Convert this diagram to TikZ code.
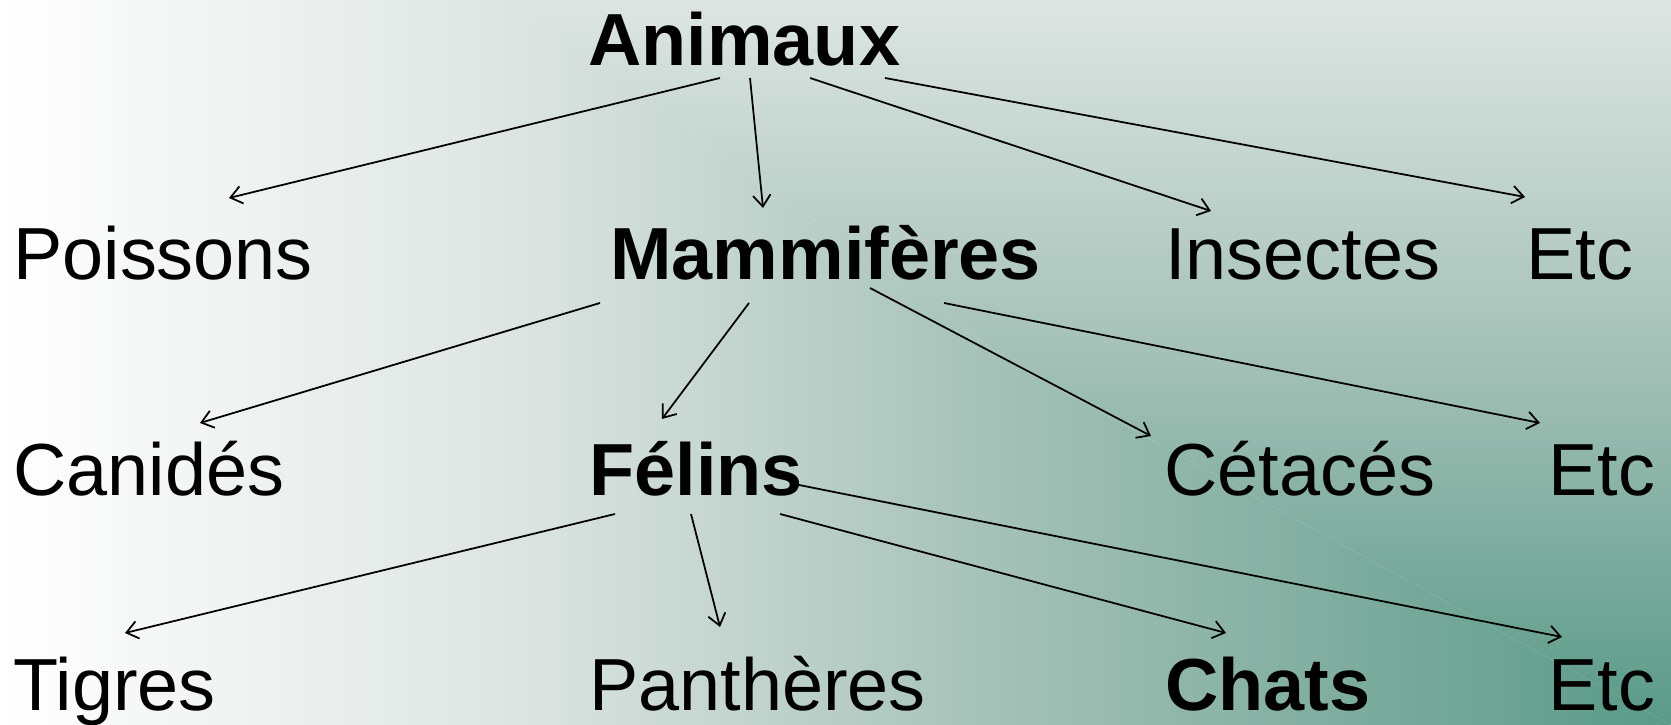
\documentclass[tikz,border=0pt]{standalone}
\usepackage{fontspec}
\setmainfont{Liberation Sans}
\usepackage{tikz}
\usetikzlibrary{arrows.meta}

\definecolor{palegreen}{HTML}{DDE5E2}
\definecolor{midgreen}{HTML}{A3C0B6}
\definecolor{deepgreen}{HTML}{5A9A88}

\begin{document}
\begin{tikzpicture}[lbl/.style={anchor=base west,inner sep=0pt,font=\fontsize{42}{50}\selectfont},
  bl/.style={lbl,font=\fontsize{42}{50}\selectfont\bfseries},
  conn/.style={->,line width=1pt},
  >={Straight Barb[length=6.5pt,width=10pt]}]

% background: left part shaded across, right part shaded down
\begin{scope}
\clip (0,0) -- (0,14.5) -- (10.2,14.5) -- (20.2,7.25) -- (33.42,0) -- cycle;
\shade[left color=white,right color=palegreen] (0,0) rectangle (10.22,14.5);
\shade[left color=palegreen,right color=midgreen] (10.2,0) rectangle (20.22,14.5);
\shade[left color=midgreen,right color=deepgreen] (20.2,0) rectangle (33.42,14.5);
\end{scope}
\begin{scope}
\clip (10.2,14.5) -- (33.42,14.5) -- (33.42,0) -- (20.2,7.25) -- cycle;
\shade[top color=palegreen,bottom color=midgreen] (10,7.23) rectangle (33.42,14.5);
\shade[top color=midgreen,bottom color=deepgreen] (10,0) rectangle (33.42,7.25);
\end{scope}
\useasboundingbox (0,0) rectangle (33.42,14.5);

\node[bl] (anim) at (11.76,13.18) {Animaux};

\node[lbl] (pois) at (0.26,8.9) {Poissons};
\node[bl] (mamm) at (12.2,8.9) {Mammifères};
\node[lbl] (inse) at (23.3,8.9) {Insectes};
\node[lbl] (etcA) at (30.52,8.9) {Etc};

\node[lbl] (cani) at (0.26,4.58) {Canidés};
\node[bl] (feli) at (11.78,4.58) {Félins};
\node[lbl] (ceta) at (23.28,4.58) {Cétacés};
\node[lbl] (etcB) at (30.96,4.58) {Etc};

\node[lbl] (tigr) at (0.26,0.28) {Tigres};
\node[lbl] (pant) at (11.78,0.28) {Panthères};
\node[bl] (chat) at (23.3,0.28) {Chats};
\node[lbl] (etcC) at (30.96,0.28) {Etc};

% Animaux
\draw[conn] ([shift={(2.64,-0.24)}]anim.base west) -- ([shift={(4.32,1.64)}]pois.base west);
\draw[conn] ([shift={(3.24,-0.24)}]anim.base west) -- ([shift={(3.06,1.44)}]mamm.base west);
\draw[conn] ([shift={(4.44,-0.24)}]anim.base west) -- ([shift={(0.92,1.38)}]inse.base west);
\draw[conn] ([shift={(5.94,-0.24)}]anim.base west) -- ([shift={(-0.02,1.66)}]etcA.base west);

% Mammiferes
\draw[conn] ([shift={(-0.2,-0.46)}]mamm.base west) -- ([shift={(3.74,1.46)}]cani.base west);
\draw[conn] ([shift={(2.78,-0.46)}]mamm.base west) -- ([shift={(1.46,1.54)}]feli.base west);
\draw[conn] ([shift={(5.2,-0.16)}]mamm.base west) -- ([shift={(-0.26,1.2)}]ceta.base west);
\draw[conn] ([shift={(6.68,-0.46)}]mamm.base west) -- ([shift={(-0.16,1.46)}]etcB.base west);

% Felins
\draw[conn] ([shift={(0.52,-0.36)}]feli.base west) -- ([shift={(2.24,1.56)}]tigr.base west);
\draw[conn] ([shift={(2.04,-0.36)}]feli.base west) -- ([shift={(2.62,1.68)}]pant.base west);
\draw[conn] ([shift={(3.82,-0.36)}]feli.base west) -- ([shift={(1.22,1.56)}]chat.base west);
\draw[conn] ([shift={(4.2,0.22)}]feli.base west) -- ([shift={(0.28,1.48)}]etcC.base west);
\end{tikzpicture}
\end{document}
